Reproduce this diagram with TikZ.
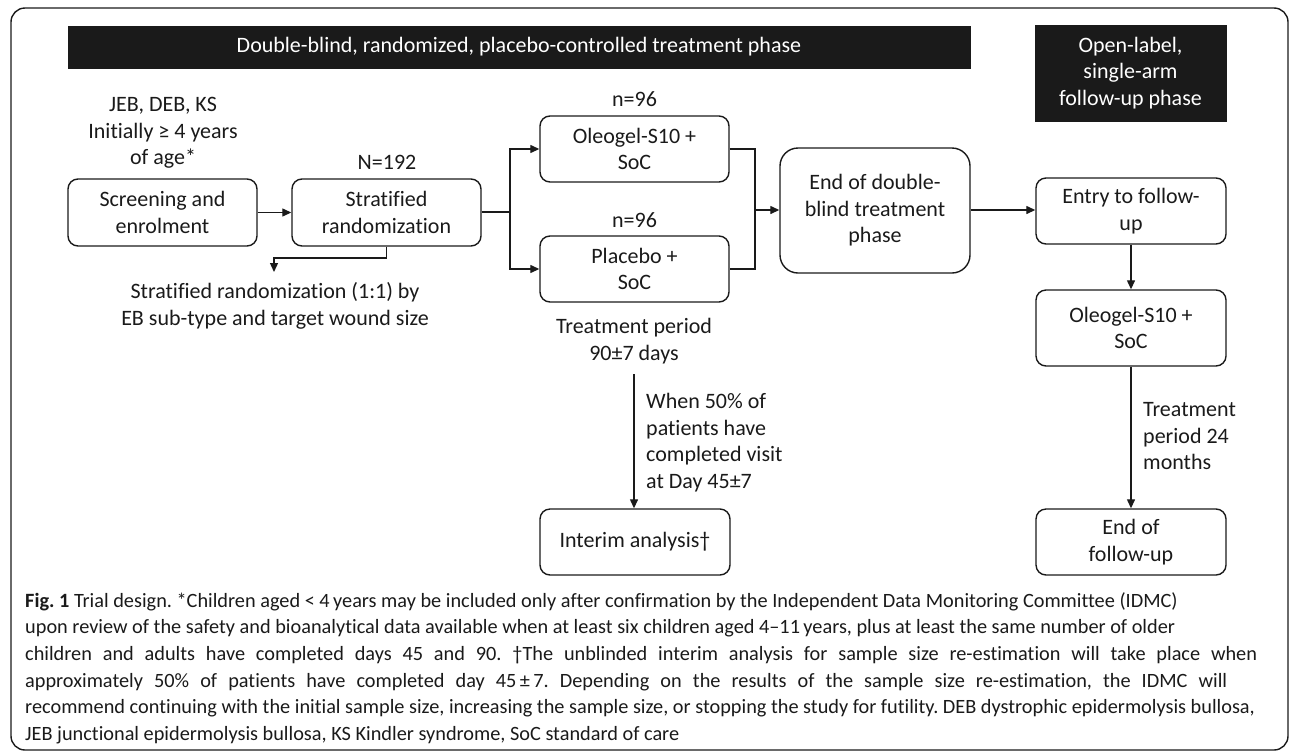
\documentclass[tikz,border=0pt]{standalone}
\usepackage{fontspec}
\setmainfont{Carlito}[Ligatures={TeX,NoCommon}]
\usetikzlibrary{arrows.meta,positioning}
\definecolor{ink}{HTML}{1A1A1A}
\frenchspacing
\tikzset{
  box/.style={draw=ink, line width=1.4pt, rounded corners=10pt, align=center, text=ink, inner sep=0pt},
  bar/.style={fill=ink, draw=ink, text=white, align=center, inner sep=0pt},
  lbl/.style={text=ink, align=center, inner sep=0pt},
  conn/.style={draw=ink, line width=1.3pt},
  arr/.style={conn, -{Triangle[length=9pt,width=8pt]}},
  capline/.style={anchor=base west, inner sep=0pt, text=ink, font=\fontsize{20.3}{24}\selectfont},
}
\begin{document}
\begin{tikzpicture}[x=1pt,y=-1pt, every node/.style={font=\fontsize{22}{26.5}\selectfont}]
\useasboundingbox (0,0) rectangle (1292,753);
\draw[ink, line width=1.4pt, rounded corners=14pt] (11,8) rectangle (1288,750);
% header bars
\node[bar, minimum width=902pt, minimum height=42pt] (hb1) at (519,47) {Double-blind, randomized, placebo-controlled treatment phase};
\node[bar, minimum width=191pt, minimum height=96pt] (hb2) at (1130.5,73) {Open-label,\\single-arm\\follow-up phase};
% boxes
\node[box, minimum width=189pt, minimum height=67pt] (scr) at (162.5,212.5) {Screening and\\enrolment};
\node[box, minimum width=189pt, minimum height=67pt] (str) at (386.5,212.5) {Stratified\\randomization};
\node[box, minimum width=189pt, minimum height=66pt] (ole) at (634.5,149) {Oleogel-S10 +\\SoC};
\node[box, minimum width=189pt, minimum height=66pt] (pla) at (634.5,269) {Placebo +\\SoC};
\node[box, rounded corners=18pt, minimum width=190pt, minimum height=125pt] (end) at (875,210.5) {End of double-\\blind treatment\\phase};
\node[box, minimum width=190pt, minimum height=66pt] (ent) at (1131,211) {Entry to follow-\\up};
\node[box, minimum width=190pt, minimum height=76pt] (ole2) at (1131,328) {Oleogel-S10 +\\SoC};
\node[box, minimum width=190pt, minimum height=66pt] (fin) at (1131,542) {End of\\follow-up};
\node[box, minimum width=190pt, minimum height=66pt] (int) at (635,542) {Interim analysis†};
% labels
\node[lbl] (jeb) at (163,133) {JEB, DEB, KS\\Initially ≥ 4 years\\of age*};
\node[lbl] (n192) at (387,162) {N=192};
\node[lbl] (n1) at (634.5,99) {n=96};
\node[lbl] (n2) at (634.5,220) {n=96};
\node[lbl] (strat) at (275,306) {Stratified randomization (1:1) by\\EB sub-type and target wound size};
\node[lbl] (tp) at (634,341) {Treatment period\\90±7 days};
\node[lbl, align=left, anchor=west] (w50) at (646,442.5) {When 50\% of\\patients have\\completed visit\\at Day 45±7};
\node[lbl, align=left, anchor=west] (tp24) at (1143,436.5) {Treatment\\period 24\\months};
% connectors
\draw[arr] (scr.east) -- (str.west);
\coordinate (sj) at (510,212);
\draw[conn] (str.east |- sj) -- (sj);
\draw[arr] (sj) |- (ole.west);
\draw[arr] (sj) |- (pla.west);
\coordinate (mj) at (755,210);
\draw[conn] (ole.east) -| (mj) |- (pla.east);
\draw[arr] (mj) -- (end.west |- mj);
\draw[arr] (end.east |- mj) -- (ent.west |- mj);
\draw[arr] (ent.south) -- (ole2.north);
\draw[arr] (ole2.south) -- (fin.north);
\coordinate (sd) at (274,258);
\draw[arr] (str.south) |- (sd) -- ++(0,14);
\coordinate (tpa) at (634,374);
\draw[arr] (tpa) -- (int.north -| tpa);
% caption
\node[capline] (c1) at (25,607) {\textbf{Fig. 1} Trial design. *Children aged < 4\,years may be included only after confirmation by the Independent Data Monitoring Committee (IDMC)};
\node[capline] (c2) at (25,633.7) {upon review of the safety and bioanalytical data available when at least six children aged 4–11\,years, plus at least the same number of older};
\node[capline] (c3) at (25,660.4) {\makebox[1232pt][s]{children and adults have completed days 45 and 90. †The unblinded interim analysis for sample size re-estimation will take place when}};
\node[capline] (c4) at (25,687.1) {\makebox[1202pt][s]{approximately 50\% of patients have completed day 45\,±\,7. Depending on the results of the sample size re-estimation, the IDMC will}};
\node[capline] (c5) at (25,713.8) {recommend continuing with the initial sample size, increasing the sample size, or stopping the study for futility. DEB dystrophic epidermolysis bullosa,};
\node[capline] (c6) at (25,740.5) {JEB junctional epidermolysis bullosa, KS Kindler syndrome, SoC standard of care};
\end{tikzpicture}
\end{document}
